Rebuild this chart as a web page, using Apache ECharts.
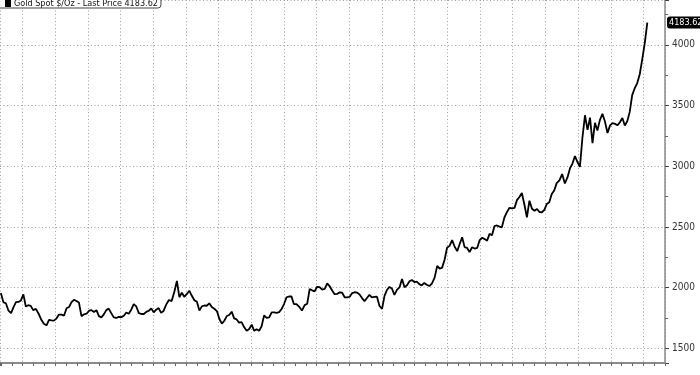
<!DOCTYPE html>
<html>
<head>
<meta charset="utf-8">
<script src="https://cdn.jsdelivr.net/npm/echarts@6/dist/echarts.min.js"></script>
<style>
html,body{margin:0;padding:0;background:#fff;}
#chart{width:700px;height:375px;}
</style>
</head>
<body>
<div id="chart"></div>
<script>
// Weekly Gold spot closes ($/oz), one value per week starting 2020-11-01
var startDate = '2020-11-01';
var gold2020 = [1955, 1880, 1870, 1810, 1790, 1840, 1880, 1882, 1895];
var gold2021 = [1945, 1845, 1855, 1850, 1815, 1825, 1785, 1735, 1700, 1690, 1735, 1730, 1728,
  1745, 1778, 1778, 1770, 1830, 1840, 1880, 1900, 1890, 1877, 1765, 1780, 1785,
  1810, 1815, 1800, 1815, 1765, 1755, 1780, 1815, 1827, 1790, 1755, 1750, 1760,
  1757, 1768, 1795, 1785, 1818, 1865, 1845, 1790, 1783, 1783, 1800, 1810, 1828];
var gold2022 = [1797, 1818, 1832, 1792, 1808, 1860, 1898, 1889, 1966, 2055, 1921, 1958, 1925,
  1946, 1975, 1933, 1896, 1883, 1811, 1846, 1853, 1851, 1871, 1840, 1826, 1807,
  1742, 1703, 1727, 1766, 1775, 1802, 1747, 1738, 1712, 1716, 1675, 1644, 1660,
  1695, 1644, 1657, 1645, 1681, 1771, 1751, 1755, 1797, 1797, 1793, 1798, 1824];
var gold2023 = [1865, 1920, 1927, 1928, 1865, 1865, 1842, 1811, 1856, 1868, 1989, 1978, 1969,
  2007, 2004, 1983, 1990, 2035, 2011, 1977, 1946, 1948, 1961, 1958, 1921, 1919,
  1925, 1955, 1962, 1959, 1943, 1914, 1889, 1915, 1940, 1919, 1924, 1925, 1849,
  1825, 1932, 1981, 2006, 1993, 1940, 1981, 2002, 2072, 2004, 2019, 2053, 2063, 2045];
var gold2024 = [2049, 2029, 2018, 2039, 2024, 2013, 2035, 2083, 2179, 2156, 2165, 2230, 2329,
  2344, 2392, 2337, 2301, 2360, 2415, 2334, 2327, 2293, 2333, 2322, 2327, 2392,
  2411, 2400, 2387, 2443, 2431, 2507, 2512, 2503, 2497, 2578, 2622, 2658, 2653,
  2657, 2721, 2747, 2780, 2685, 2580, 2716, 2650, 2633, 2648, 2623, 2621, 2640];
var gold2025 = [2690, 2703, 2771, 2800, 2861, 2883, 2936, 2858, 2910, 2984, 3022, 3084, 3037,
  2995, 3237, 3420, 3300, 3400, 3190, 3358, 3295, 3380, 3432, 3368, 3274, 3337,
  3355, 3350, 3337, 3363, 3398, 3336, 3371, 3448, 3586, 3643, 3685, 3760, 3886,
  4018, 4183.62];
var seriesName = 'Gold Spot $/Oz';

var values = [].concat(gold2020, gold2021, gold2022, gold2023, gold2024, gold2025);
var lastValue = values[values.length - 1];

// x axis unit: months since January 2021
function monthIndex(d) {
  var y = d.getUTCFullYear(), m = d.getUTCMonth();
  var dim = new Date(Date.UTC(y, m + 1, 0)).getUTCDate();
  return (y - 2021) * 12 + m + (d.getUTCDate() - 1) / dim;
}
var t0 = Date.parse(startDate + 'T00:00:00Z');
var data = values.map(function (v, i) {
  return [monthIndex(new Date(t0 + i * 7 * 86400000)), v];
});

var font = "'Liberation Sans Narrow', 'DejaVu Sans Condensed', 'Liberation Sans', sans-serif";
var grey = '#8a8a8a';
var gridLine = { show: true, lineStyle: { color: '#a0a0a0', width: 1, type: [1, 2.5] } };

var chart = echarts.init(document.getElementById('chart'), null, { renderer: 'canvas' });
chart.setOption({
  animation: false,
  backgroundColor: '#fff',
  textStyle: { fontFamily: font },
  legend: {
    show: true,
    left: -3, top: -3,
    data: [seriesName],
    icon: 'rect',
    itemWidth: 6, itemHeight: 7,
    padding: [2, 3, 0, 8],
    backgroundColor: '#fff',
    borderColor: '#444', borderWidth: 1, borderRadius: [0, 0, 3, 0],
    formatter: function (n) { return n + ' - Last Price ' + lastValue.toFixed(2); },
    textStyle: { fontFamily: font, fontSize: 9, color: '#111', padding: [0, 0, 0, -2] }
  },
  grid: { left: -1, right: 35, top: -1, bottom: 12, containLabel: false },
  xAxis: {
    type: 'value',
    min: -2.081, max: 58.98,
    splitNumber: 20,
    axisLine: { show: true, onZero: false, lineStyle: { color: grey, width: 2 } },
    axisTick: { show: true, length: 3, inside: false, lineStyle: { color: '#666' } },
    minorTick: { show: true, splitNumber: 3, length: 3, lineStyle: { color: '#666' } },
    axisLabel: { show: false },
    splitLine: gridLine,
    minorSplitLine: { show: false }
  },
  yAxis: {
    type: 'value',
    position: 'right',
    min: 1379.2, max: 4369.7,
    splitNumber: 6,
    axisLine: { show: true, onZero: false, lineStyle: { color: grey, width: 1.5 } },
    axisTick: { show: true, length: 4, inside: false, lineStyle: { color: '#444' } },
    minorTick: { show: true, splitNumber: 2, length: 3, lineStyle: { color: '#666' } },
    axisLabel: { show: true, margin: 7, fontSize: 10, color: '#333', fontFamily: font,
      showMinLabel: false, showMaxLabel: false,
      formatter: function (v) { return String(v); } },
    splitLine: gridLine
  },
  series: [{
    name: seriesName,
    type: 'line',
    data: data,
    showSymbol: false,
    symbol: 'none',
    clip: false,
    lineStyle: { color: '#000', width: 1.8 },
    itemStyle: { color: '#000' },
    markLine: {
      silent: true,
      symbol: 'none',
      data: [{ yAxis: lastValue }],
      lineStyle: { color: 'rgba(0,0,0,0)', width: 1, type: 'solid' },
      emphasis: { disabled: true },
      label: {
        show: true, position: 'end', distance: 2,
        formatter: function () { return lastValue.toFixed(2); },
        backgroundColor: '#000', color: '#fff', borderRadius: 3,
        padding: [2, 1, 1, 2], fontSize: 9, fontFamily: font, opacity: 1
      }
    }
  }]
});
</script>
</body>
</html>
